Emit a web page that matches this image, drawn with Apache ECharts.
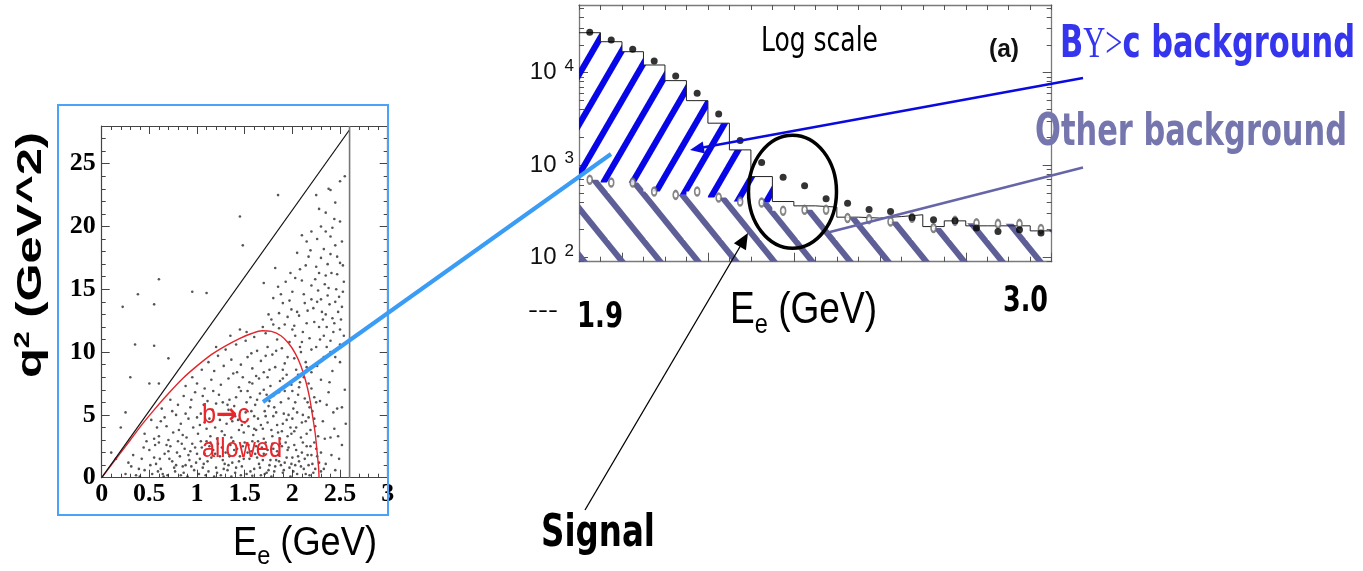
<!DOCTYPE html>
<html><head><meta charset="utf-8">
<script src="https://cdn.jsdelivr.net/npm/echarts@6.0.0/dist/echarts.min.js"></script>
<style>html,body{margin:0;padding:0;background:#fff;overflow:hidden}#chart{width:1363px;height:571px}</style>
</head><body><div id="chart"></div>
<script>
// ================= DATA =================
// Left panel: q^2 (GeV^2) vs E_e (GeV) event scatter
const scatterPoints = [
[0.25,0.3],[0.31,0.9],[0.36,0.2],[0.42,1.5],[0.45,0.6],[0.5,2.2],[0.53,0.3],[0.57,1.1],[0.6,2.8],[0.62,0.7],[0.66,1.9],[0.69,0.2],[0.72,2.5],[0.74,1.3],[0.77,0.5],[0.8,2.9],[0.82,1.7],[0.85,0.9],[0.87,2.3],[0.9,0.1],[0.92,1.4],[0.95,2.7],[0.97,0.6],[1.0,1.9],[1.02,0.3],[1.05,2.4],[1.07,1.1],[1.1,2.9],[1.12,0.5],[1.15,1.6],[1.17,2.2],[1.2,0.8],[1.22,2.7],[1.25,0.2],[1.27,1.4],[1.3,2.0],[1.32,0.6],[1.35,2.6],[1.37,1.2],[1.4,0.4],[1.42,2.3],[1.45,1.7],[1.47,0.9],[1.5,2.8],[1.52,0.3],[1.55,1.5],[1.57,2.1],[1.6,0.7],[1.62,2.5],[1.65,1.1],[1.67,0.2],[1.7,1.9],[1.72,2.8],[1.75,0.6],[1.77,1.4],[1.8,2.3],[1.82,0.9],[1.85,1.8],[1.87,2.7],[1.9,0.4],[1.92,1.2],[1.95,2.2],[1.97,0.8],[2.0,1.6],[2.02,2.6],[2.05,0.3],[2.07,1.3],[2.1,2.0],[2.12,0.7],[2.15,2.5],[2.17,1.0],[2.2,1.8],[2.22,0.4],[2.25,2.3],[2.28,1.2],[0.4,0.1],[0.65,0.1],[1.18,0.1],[1.58,0.15],[0.88,1.0],[1.33,1.0],[1.78,0.1],[2.3,0.5],[0.55,1.6],[1.03,1.5],[1.48,2.5],
[0.33,1.8],[0.47,2.9],[0.59,0.5],[0.71,1.5],[0.83,0.2],[0.93,2.1],[1.06,0.8],[1.13,2.5],[1.24,1.7],[1.36,0.1],[1.44,1.3],[1.53,2.0],[1.63,1.6],[1.73,0.4],[1.83,1.4],[1.93,2.8],[2.03,1.0],[2.13,1.5],[2.23,2.8],[2.18,0.2],[1.98,0.1],[1.88,1.0],[1.68,2.4],[1.58,2.9],[1.38,2.9],[1.28,0.7],[1.08,1.9],[0.98,2.4],[0.78,1.0],[0.68,2.6],
[0.28,1.2],[0.39,0.7],[0.44,2.4],[0.51,1.0],[0.56,2.6],[0.61,1.5],[0.64,0.3],[0.7,2.1],[0.76,0.8],[0.79,2.0],[0.84,2.7],[0.86,0.4],[0.91,1.8],[0.94,0.9],[0.99,1.2],[1.04,2.9],[1.09,0.2],[1.11,1.3],[1.14,2.8],[1.19,1.9],[1.21,0.4],[1.26,2.4],[1.29,1.1],[1.34,1.7],[1.39,2.2],[1.41,0.8],[1.46,0.2],[1.49,1.5],[1.54,2.6],[1.56,0.5],[1.61,1.9],[1.64,2.9],[1.66,0.8],[1.69,1.4],[1.71,0.3],[1.74,2.2],[1.76,1.0],[1.79,2.7],[1.81,0.5],[1.84,2.1],[1.86,1.3],[1.89,2.5],[1.91,0.6],[1.94,1.6],[1.96,2.4],[1.99,1.1],[2.01,0.5],[2.04,2.2],[2.06,1.7],[2.09,0.9],[2.11,2.8],[2.14,0.3],[2.16,1.8],[2.19,2.5],[2.21,1.1],[2.24,0.7],[2.26,1.7],
[0.45,3.5],[0.52,4.6],[0.6,3.3],[0.63,5.5],[0.68,4.1],[0.72,6.2],[0.75,3.6],[0.78,5.0],[0.83,4.3],[0.86,6.5],[0.89,3.2],[0.93,5.6],[0.96,4.0],[0.98,6.8],[1.01,3.5],[1.04,5.1],[1.08,4.4],[1.11,6.1],[1.14,3.3],[1.16,5.4],[1.19,4.0],[1.23,6.6],[1.26,3.7],[1.28,5.0],[1.31,4.3],[1.34,6.2],[1.36,3.2],[1.39,5.7],[1.43,4.6],[1.46,6.9],[1.49,3.6],[1.51,5.2],[1.54,4.1],[1.56,6.4],[1.59,3.4],[1.61,5.8],[1.64,4.7],[1.66,6.7],[1.69,3.9],[1.71,5.3],[1.74,4.4],[1.76,6.1],[1.79,3.3],[1.81,5.6],[1.84,4.2],[1.86,6.8],[1.89,3.7],[1.91,5.1],[1.94,4.6],[1.96,6.3],[1.99,3.5],[2.01,5.5],[2.04,4.0],[2.06,6.6],[2.09,3.2],[2.11,5.0],[2.14,4.5],[2.16,6.0],[2.19,3.8],[2.21,5.3],[2.24,4.1],[2.27,3.3],[0.58,4.0],[0.8,5.8],[1.0,4.8],[1.2,5.9],[1.4,4.9],[1.6,4.9],[1.8,4.9],[2.0,4.7],[1.1,3.9],[1.7,3.1],[1.95,3.3],
[0.55,3.1],[0.66,4.8],[0.7,3.0],[0.91,4.7],[1.06,6.5],[1.21,3.1],[1.33,5.4],[1.47,4.2],[1.62,3.8],[1.73,6.6],[1.87,3.1],[2.03,6.0],[2.17,4.8],[2.23,6.4],[1.53,6.9],[1.27,6.0],[0.85,3.4],[1.92,6.9],
[0.62,4.5],[0.74,5.3],[0.81,3.8],[0.88,5.1],[0.94,6.2],[1.03,4.2],[1.07,5.8],[1.13,4.7],[1.17,6.9],[1.24,4.6],[1.29,3.4],[1.32,5.8],[1.37,4.5],[1.41,6.4],[1.44,3.8],[1.5,4.4],[1.52,6.0],[1.57,5.3],[1.6,3.9],[1.63,6.2],[1.67,4.2],[1.7,7.0],[1.72,4.9],[1.75,5.7],[1.78,3.8],[1.8,6.5],[1.83,5.2],[1.85,3.6],[1.88,6.0],[1.9,4.3],[1.93,7.3],[1.96,5.0],[1.98,4.0],[2.0,6.9],[2.02,3.7],[2.05,5.2],[2.08,7.6],[2.1,4.4],[2.13,6.3],[2.15,3.5],[2.18,5.6],[2.2,7.1],[2.23,4.7],[2.25,6.0],[1.58,7.5],[1.74,8.0],[1.9,8.6],[2.06,8.2],[2.15,8.8],[1.42,8.4],
[0.88,7.3],[0.95,8.0],[1.0,7.5],[1.05,8.6],[1.08,7.1],[1.12,9.2],[1.15,7.8],[1.18,8.5],[1.22,9.7],[1.25,7.4],[1.28,8.9],[1.3,10.2],[1.33,7.9],[1.36,9.4],[1.38,8.3],[1.41,10.6],[1.44,7.2],[1.46,9.0],[1.48,8.0],[1.51,10.9],[1.53,9.6],[1.55,7.6],[1.58,8.7],[1.6,11.2],[1.63,10.1],[1.65,7.9],[1.67,9.3],[1.7,8.4],[1.72,11.5],[1.74,10.4],[1.77,7.3],[1.79,9.8],[1.82,8.8],[1.84,11.0],[1.87,7.7],[1.89,10.3],[1.92,9.1],[1.94,8.2],[1.97,10.8],[1.99,7.4],[2.02,9.5],[2.04,8.6],[2.07,7.2],[2.09,10.0],[2.12,8.0],[2.14,9.2],[2.17,7.5],[2.2,8.4],[1.35,11.3],[1.52,11.6],[1.69,12.0],[1.86,11.9],[2.03,11.3],[1.2,10.4],[1.45,11.8],[1.8,12.2],[1.62,8.1],[1.76,8.6],[1.9,7.9],[1.57,9.9],
[2.1,10.8],[2.15,12.3],[2.18,11.1],[2.22,13.5],[2.25,10.4],[2.28,12.0],[2.3,14.2],[2.33,11.3],[2.35,13.0],[2.38,15.1],[2.4,10.9],[2.42,12.7],[2.45,14.0],[2.47,16.2],[2.5,11.8],[2.52,13.6],[2.54,15.6],[2.2,15.3],[2.25,16.8],[2.3,17.5],[2.35,16.1],[2.4,17.8],[2.45,18.5],[2.5,17.1],[2.12,14.6],[2.05,13.2],[2.0,14.8],[1.95,12.8],[1.9,13.9],[1.85,15.2],[1.8,14.3],[1.75,13.0],[1.7,15.5],[1.98,16.3],[2.08,16.6],[2.17,17.6],[1.93,15.6],[2.02,12.1],[2.27,14.9],[2.37,14.5],[2.43,11.6],[2.32,12.6],[1.82,16.7],[2.13,13.9],[1.78,12.6],[2.48,13.2],[2.53,16.9],[2.4,19.2],[2.15,18.8],[2.3,20.0],
[1.72,9.7],[1.83,10.1],[1.95,9.6],[2.0,11.8],[2.07,12.9],[2.11,11.6],[2.16,13.3],[2.2,10.2],[2.23,12.4],[2.26,14.0],[2.29,11.0],[2.31,13.2],[2.34,15.4],[2.36,12.0],[2.39,13.8],[2.41,16.3],[2.44,12.3],[2.46,15.0],[2.49,14.4],[2.51,12.6],[2.53,14.8],[2.2,14.2],[2.24,15.8],[2.28,16.3],[2.33,18.2],[2.37,17.0],[2.42,19.9],[2.47,17.6],[2.52,18.8],[2.1,15.7],[2.03,15.9],[1.97,14.1],[1.88,14.6],[1.92,12.2],[1.86,13.1],[2.14,16.9],[2.19,18.1],[2.26,19.0],[2.35,19.6],[2.44,20.6],[2.08,10.4],[1.99,13.4],[2.31,9.3],[2.36,10.4],[2.45,9.6],[2.5,10.6],[2.54,11.3],[2.39,7.6],[2.43,5.2],[2.34,3.1],[2.48,3.3],[2.52,5.6],[2.41,1.8],[2.33,0.7],
[2.2,19.6],[2.35,21.1],[2.45,21.9],[2.5,23.6],[2.4,22.9],[2.28,21.4],[2.5,20.4],[2.55,24.0],[2.38,23.0],[2.1,19.3],[2.25,22.5],[2.05,17.9],
[0.22,13.6],[0.38,14.6],[0.6,15.8],[0.95,14.8],[1.1,14.7],[1.45,20.8],[1.48,18.5],[1.85,22.5],[0.55,13.8],[0.35,10.6],[0.3,8.0],[0.55,10.5],[0.7,9.5],[0.6,7.5],[0.1,2.0],[0.15,1.5],[0.2,4.0],[0.25,5.2],[0.5,7.5],
[2.3,2.0],[2.32,4.5],[2.35,1.1],[2.38,6.8],[2.4,3.2],[2.42,8.5],[2.45,0.6],[2.47,5.5],[2.5,9.2],[2.52,2.6],[2.55,7.0],[2.33,9.6],[2.36,5.8],[2.44,3.9],[2.49,1.5],[2.3,7.8],[2.26,8.9],[2.4,10.0],[2.56,4.3],[2.29,6.1]
];
// b->c allowed kinematic boundary (red curve)
const kinBoundary = [[0,0],[0.1,1.0],[0.2,2.0],[0.3,3.0],[0.43,4.3],[0.55,5.4],[0.7,6.7],[0.85,7.9],[1.0,8.9],[1.15,9.8],[1.3,10.5],[1.45,11.1],[1.58,11.5],[1.68,11.7],[1.78,11.65],[1.88,11.3],[1.96,10.7],[2.03,9.9],[2.09,8.9],[2.14,7.7],[2.18,6.4],[2.21,5.0],[2.24,3.5],[2.26,2.0],[2.275,0.8],[2.28,0]];
const diagonalLine = [[0,0],[2.6,27.7]];
const endpointLine = [[2.6,0],[2.6,28]];
const leftXRange = [0, 3];
const leftYRange = [0, 28];

// Right panel: electron energy spectrum, log scale (events / 50 MeV bin)
const binCenters = [1.925,1.975,2.025,2.075,2.125,2.175,2.225,2.275,2.325,2.375,2.425,2.475,2.525,2.575,2.625,2.675,2.725,2.775,2.825,2.875,2.925,2.975];
const binWidth = 0.05;
const dataCounts = [27350,22590,17910,13390,9210,5990,3580,1840,1064,740,596,431,387,330,314,271,256,249,208,191,199,184];
const mcTotal    = [27070,21630,16870,12110,8200,4980,2840,1460,751,403,362,351,273,267,277,290,216,249,220,220,220,194];
const otherBkg   = [692,647,647,517,476,517,445,403,393,320,328,328,267,260,245,269,208,249,235,231,231,203];
const bcHatchBins = 9;
const rightXRange = [1.9, 3.0];
const rightYRange = [90, 54000];
const logMajorTicks = [100, 1000, 10000];
const majorXTicks = [2.0, 2.2, 2.4, 2.6, 2.8, 3.0];

// ================= derived helpers =================
const r4 = v => Math.round(v * 10000) / 10000;
const binEdges = binCenters.map(c => r4(c - binWidth / 2)).concat([r4(binCenters[binCenters.length - 1] + binWidth / 2)]);
const stepLine = [];
binCenters.forEach((c, i) => { stepLine.push([r4(c - binWidth / 2), mcTotal[i]]); stepLine.push([r4(c + binWidth / 2), mcTotal[i]]); });
const logMinorTicks = [];
for (let d = 1; d <= 4; d++) for (let k = 1; k <= 9; k++) { const v = k * Math.pow(10, d); if (v >= rightYRange[0] && v <= rightYRange[1]) logMinorTicks.push(v); }

function stripes(P, H, s, lw, color, dir) {
  const c = document.createElement('canvas'); c.width = P; c.height = H;
  const g = c.getContext('2d'); g.strokeStyle = color; g.lineWidth = lw;
  for (let k = -3; k <= 3; k++) {
    g.beginPath();
    const x0 = s + k * P;
    if (dir === '/') { g.moveTo(x0 - P, 2 * H); g.lineTo(x0 + 2 * P, -H); }
    else { g.moveTo(x0 - P, -H); g.lineTo(x0 + 2 * P, 2 * H); }
    g.stroke();
  }
  return { image: c, repeat: 'repeat' };
}
const bluePattern = stripes(29, 50, 13.3, 6.2, '#0606e8', '/');
const grayPattern = stripes(38, 47, 30.7, 6, '#5f5f98', '\\');

function renderOther(params, api) {
  const y0 = rightYRange[0];
  const pts = [api.coord([binEdges[0], y0])];
  binCenters.forEach((c, i) => { pts.push(api.coord([c - binWidth / 2, otherBkg[i]])); pts.push(api.coord([c + binWidth / 2, otherBkg[i]])); });
  pts.push(api.coord([binEdges[binEdges.length - 1], y0]));
  return { type: 'polygon', shape: { points: pts }, style: { fill: grayPattern, stroke: null } };
}
function renderBc(params, api) {
  const top = [], bot = [];
  for (let i = 0; i < bcHatchBins; i++) {
    const lo = binCenters[i] - binWidth / 2, hi = binCenters[i] + binWidth / 2;
    top.push(api.coord([lo, mcTotal[i]])); top.push(api.coord([hi, mcTotal[i]]));
    bot.push(api.coord([lo, otherBkg[i]])); bot.push(api.coord([hi, otherBkg[i]]));
  }
  return { type: 'polygon', shape: { points: top.concat(bot.reverse()) }, style: { fill: bluePattern, stroke: null } };
}

// text helper (measured + horizontally fitted)
const mctx = document.createElement('canvas').getContext('2d');
function fontStr(p) { return (p.weight || 'normal') + ' ' + p.size + 'px ' + p.family; }
function row(pieces, x, baseline, targetW, extra) {
  let cx = 0; const kids = [];
  pieces.forEach(p => {
    const f = fontStr(p); mctx.font = f;
    const w = mctx.measureText(p.t).width;
    kids.push({ type: 'text', x: cx, y: (p.dy || 0) - 0.3 * p.size, z: 100,
      style: { text: p.t, font: f, fill: p.color || '#000', align: 'left', verticalAlign: 'middle' } });
    cx += w;
  });
  return Object.assign({ type: 'group', x: x, y: baseline, scaleX: targetW ? targetW / cx : 1, z: 100, children: kids }, extra || {});
}
const SANS = "'DejaVu Sans'", ARIAL = "'Liberation Sans'", SERIF = "'Liberation Serif'";
const BLUE_TXT = '#3535ee', RED = '#e8262c';

function yTitle() {
  const pieces = [{ t: 'q', size: 48, weight: 'bold', family: ARIAL }, { t: '2', size: 30, weight: 'bold', family: ARIAL, dy: -18 }, { t: ' (GeV^2)', size: 48, weight: 'bold', family: ARIAL }];
  const g = row(pieces, 42, 378, 246);
  g.rotation = Math.PI / 2; g.scaleY = 0.72;
  return g;
}

const graphics = [
  { type: 'rect', z: 100, shape: { x: 58, y: 105, width: 330, height: 410 }, style: { fill: null, stroke: '#4aa3f5', lineWidth: 2 } },
  { type: 'line', z: 100, shape: { x1: 263, y1: 402, x2: 611, y2: 154 }, style: { stroke: '#3a9cf4', lineWidth: 4 } },
  { type: 'line', z: 100, shape: { x1: 1083, y1: 78, x2: 700, y2: 148 }, style: { stroke: '#0a0ae0', lineWidth: 2.5 } },
  { type: 'polygon', z: 100, shape: { points: [[690, 150], [704.9, 153.4], [702.7, 141.6]] }, style: { fill: '#0a0ae0' } },
  { type: 'line', z: 100, shape: { x1: 1083, y1: 167.5, x2: 826, y2: 233 }, style: { stroke: '#6565a8', lineWidth: 2.5 } },
  { type: 'ellipse', z: 100, shape: { cx: 792.5, cy: 191.7, rx: 44, ry: 56.5 }, style: { fill: null, stroke: '#000', lineWidth: 3.5 } },
  { type: 'line', z: 100, shape: { x1: 585, y1: 510, x2: 741, y2: 245 }, style: { stroke: '#000', lineWidth: 1.3 } },
  { type: 'polygon', z: 100, shape: { points: [[748, 233], [745.9, 250.3], [733.9, 243.3]] }, style: { fill: '#000' } },
  row([{ t: 'Log scale', size: 33, family: SANS }], 761, 52, 117),
  row([{ t: '(a)', size: 26, weight: 'bold', family: ARIAL, color: '#111' }], 989, 58, 30),
  row([{ t: 'B', size: 45, weight: 'bold', family: SANS, color: BLUE_TXT }, { t: 'Y>', size: 45, family: SERIF, color: BLUE_TXT }, { t: 'c background', size: 45, weight: 'bold', family: SANS, color: BLUE_TXT }], 1060, 59, 295),
  row([{ t: 'Other background', size: 45, weight: 'bold', family: SANS, color: '#7676ae' }], 1035, 147, 312),
  row([{ t: 'E', size: 44, family: ARIAL }, { t: 'e', size: 28, family: ARIAL, dy: 10 }, { t: ' (GeV)', size: 44, family: ARIAL }], 730, 324, 147),
  row([{ t: '3.0', size: 36, weight: 'bold', family: SANS }], 1003, 312, 45),
  row([{ t: '1.9', size: 36, weight: 'bold', family: SANS }], 577, 328, 46),
  row([{ t: '---', size: 22, family: SANS }], 528, 318, 30),
  row([{ t: 'Signal', size: 44, weight: 'bold', family: SANS }], 541, 548, 114),
  row([{ t: 'E', size: 40, family: ARIAL }, { t: 'e', size: 26, family: ARIAL, dy: 9 }, { t: ' (GeV)', size: 40, family: ARIAL }], 233, 556, 144),
  row([{ t: 'b', size: 28, family: ARIAL, color: RED }, { t: '→', size: 28, weight: 'bold', family: SANS, color: RED }, { t: 'c', size: 28, family: ARIAL, color: RED }], 202, 424, 48),
  row([{ t: 'allowed', size: 28, family: ARIAL, color: RED }], 202, 458, 80),
  yTitle()
];

// ================= axes =================
const LCOL = '#444';
const leftLabel = { fontFamily: SERIF, fontWeight: 'bold', fontSize: 26, color: '#000' };
function leftAxis(dim, pos, showLabel) {
  const isX = dim === 'x';
  return {
    gridIndex: 0, type: 'value', position: pos,
    min: isX ? leftXRange[0] : leftYRange[0], max: isX ? leftXRange[1] : leftYRange[1], interval: isX ? 0.5 : 5,
    axisLine: { show: true, onZero: false, lineStyle: { color: LCOL, width: 1.2 } },
    axisTick: { show: true, inside: true, length: 8, lineStyle: { color: LCOL } },
    minorTick: { show: true, splitNumber: 5, length: 4, lineStyle: { color: LCOL } },
    splitLine: { show: false }, minorSplitLine: { show: false },
    axisLabel: Object.assign({ show: showLabel, margin: isX ? 4 : 6, showMaxLabel: isX }, leftLabel)
  };
}
const RCOL = '#7a7a7a';
function rightX(pos, ticks, len, showLine) {
  return {
    gridIndex: 1, type: 'value', position: pos, min: rightXRange[0], max: rightXRange[1],
    axisLine: { show: showLine, onZero: false, lineStyle: { color: RCOL, width: 1.3 } },
    axisTick: { show: true, inside: true, length: len, customValues: ticks, lineStyle: { color: '#555' } },
    axisLabel: { show: false }, splitLine: { show: false }
  };
}
function rightY(pos, ticks, len, showLine, labels) {
  return {
    gridIndex: 1, type: 'log', logBase: 10, position: pos, min: rightYRange[0], max: rightYRange[1],
    axisLine: { show: showLine, onZero: false, lineStyle: { color: RCOL, width: 1.3 } },
    axisTick: { show: true, inside: true, length: len, customValues: ticks, lineStyle: { color: '#555' } },
    splitLine: { show: false },
    axisLabel: labels ? {
      show: true, customValues: logMajorTicks, margin: 5,
      formatter: v => '{b|10}{s|' + Math.round(Math.log10(v)) + '}',
      rich: { b: { fontFamily: ARIAL, fontSize: 24, color: '#111', lineHeight: 30 },
              s: { fontFamily: ARIAL, fontSize: 17, color: '#111', lineHeight: 14, verticalAlign: 'top', padding: [0, 0, 0, 8] } }
    } : { show: false }
  };
}

const option = {
  animation: false,
  backgroundColor: '#fff',
  grid: [
    { left: 101.7, top: 126, width: 286, height: 351.7, show: false },
    { left: 579, top: 5, width: 472.7, height: 256.7, show: false }
  ],
  xAxis: [
    leftAxis('x', 'bottom', true),
    leftAxis('x', 'top', false),
    rightX('bottom', binEdges, 5, true),
    rightX('bottom', majorXTicks, 9, false),
    rightX('top', binEdges, 5, true)
  ],
  yAxis: [
    leftAxis('y', 'left', true),
    leftAxis('y', 'right', false),
    rightY('left', logMinorTicks, 5, true, false),
    rightY('left', logMajorTicks, 9, false, true),
    rightY('right', logMinorTicks, 5, true, false),
    rightY('right', logMajorTicks, 9, false, false)
  ],
  graphic: { elements: graphics },
  series: [
    { type: 'scatter', xAxisIndex: 0, yAxisIndex: 0, data: scatterPoints, symbolSize: 2.6, itemStyle: { color: '#2b2b2b' }, silent: true, z: 2 },
    { type: 'line', xAxisIndex: 0, yAxisIndex: 0, data: kinBoundary, showSymbol: false, smooth: 0.25, lineStyle: { color: '#e2262c', width: 1.4 }, z: 3 },
    { type: 'line', xAxisIndex: 0, yAxisIndex: 0, data: diagonalLine, showSymbol: false, lineStyle: { color: '#111', width: 1.2 }, z: 3 },
    { type: 'line', xAxisIndex: 0, yAxisIndex: 0, data: endpointLine, showSymbol: false, lineStyle: { color: '#777', width: 1.6 }, z: 3 },
    { type: 'custom', xAxisIndex: 2, yAxisIndex: 2, data: [[2.4, 1000]], renderItem: renderOther, clip: true, silent: true, z: 1 },
    { type: 'custom', xAxisIndex: 2, yAxisIndex: 2, data: [[2.4, 1000]], renderItem: renderBc, clip: true, silent: true, z: 1 },
    { type: 'line', xAxisIndex: 2, yAxisIndex: 2, data: stepLine, showSymbol: false, lineStyle: { color: '#222', width: 1 }, z: 3 },
    { type: 'scatter', xAxisIndex: 2, yAxisIndex: 2, data: binCenters.map((c, i) => [c, otherBkg[i]]), symbol: 'emptyCircle', symbolSize: [5, 8], itemStyle: { color: '#666', borderWidth: 1 }, z: 4 },
    { type: 'scatter', xAxisIndex: 2, yAxisIndex: 2, data: binCenters.map((c, i) => [c, dataCounts[i]]), symbolSize: 7, itemStyle: { color: '#000' }, z: 5 }
  ]
};
const chart = echarts.init(document.getElementById('chart'), null, { renderer: 'canvas' });
chart.setOption(option);
</script></body></html>
